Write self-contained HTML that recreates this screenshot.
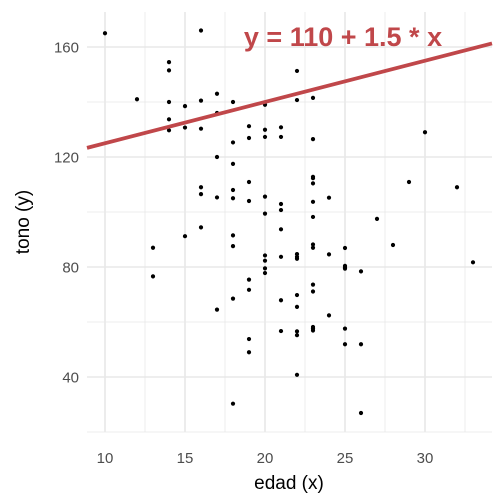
<!DOCTYPE html>
<html><head><meta charset="utf-8"><style>body{margin:0;background:#fff}svg{display:block;font-family:"Liberation Sans",sans-serif}</style></head>
<body>
<svg id="chart" width="504" height="504" viewBox="0 0 504 504">
<g id="grid"></g>
<g id="pts"></g>
<g id="axes"></g>
</svg>
<script>
const xs=[10,16,14,14,12,14,15,16,17,18,20,17,14,14,15,16,19,19,20,20,21,21,18,17,18,16,16,19,17,18,18,19,20,20,21,21,21,16,15,13,18,18,20,20,20,20,21,13,19,19,18,17,21,21,19,19,18,22,23,22,23,30,23,23,23,29,32,24,23,23,27,23,23,28,25,24,22,22,22,25,25,25,26,33,23,23,22,22,24,23,23,23,22,22,25,25,26,22,26];
const ys=[165,166,154.5,151.5,141,140,138.5,140.5,143,140,139,136,133.7,129.7,130.7,130.3,131.2,126.9,129.9,127.3,130.8,127.3,125.3,120,117.5,109,106.5,110.9,105.3,108,105,104,105.6,99.4,102.9,100.7,93.7,94.4,91.2,87,91.5,87.6,84.2,82.3,79.5,77.8,83.7,76.6,75.4,71.7,68.5,64.5,67.9,56.7,53.8,49,30.3,140.7,141.5,151.3,126.5,129,112.8,112.3,110.4,110.9,109,105.2,103.7,98.2,97.5,88.2,87,88,86.9,84.6,84.7,83.7,83,80.4,79.9,79.4,78.4,81.7,73.6,71.1,69.8,65.5,62.4,58.2,57.6,56.9,56.6,55.2,57.6,51.9,51.9,40.8,26.9];
const xTicks=[10,15,20,25,30];
const yTicks=[40,80,120,160];
const intercept=110, slope=1.5;
const X=v=>105+(v-10)*16, Y=v=>47+(160-v)*2.75;
const L=87,R=492,T=12,B=432;
const NS='http://www.w3.org/2000/svg';
function mk(t,a,p){const e=document.createElementNS(NS,t);for(const k in a)e.setAttribute(k,a[k]);p.appendChild(e);return e;}
const g=document.getElementById('grid'),pg=document.getElementById('pts'),ax=document.getElementById('axes');
for(let v=7.5;v<=35;v+=2.5){const px=X(v);if(px<L||px>R)continue;const major=v%5===0;
 const l=mk('line',{x1:px,x2:px,y1:T,y2:B,stroke:'#e8e8e8','stroke-width':major?1.6:0.8},g);
 }
for(let v=20;v<=180;v+=20){const py=Y(v);if(py<T||py>B)continue;const major=v%40===0;
 const l=mk('line',{x1:L,x2:R,y1:py,y2:py,stroke:'#e8e8e8','stroke-width':major?1.6:0.8},g);
 }
for(let i=0;i<xs.length;i++){const c=mk('circle',{cx:X(xs[i]),cy:Y(ys[i]),r:2.1,fill:'#000'},pg);
 }
const x0=8.875,x1=34.2;
const rl=mk('line',{x1:L,x2:R,y1:Y(intercept+slope*x0),y2:Y(intercept+slope*x1),stroke:'#c0474a','stroke-width':3.8},pg);

const tt=mk('text',{x:343,y:46,'text-anchor':'middle','font-size':27,'font-weight':'bold',fill:'#c0474a'},pg);
tt.textContent='y = '+intercept+' + '+slope+' * x';

xTicks.forEach(v=>{const t=mk('text',{x:X(v),y:463,'text-anchor':'middle','font-size':15,fill:'#4d4d4d'},ax);t.textContent=v;
 });
yTicks.forEach(v=>{const t=mk('text',{x:79,y:Y(v)+5.5,'text-anchor':'end','font-size':15,fill:'#4d4d4d'},ax);t.textContent=v;
 });
const xt=mk('text',{x:289,y:489,'text-anchor':'middle','font-size':19,fill:'#000'},ax);xt.textContent='edad (x)';

const yt=mk('text',{x:0,y:0,'text-anchor':'middle','font-size':19,fill:'#000',transform:'translate(29,222) rotate(-90)'},ax);yt.textContent='tono (y)';

</script>
</body></html>
